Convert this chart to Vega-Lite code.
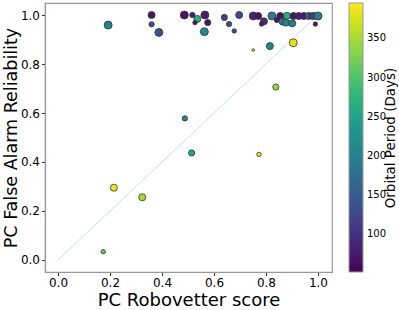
{
  "$schema": "https://vega.github.io/schema/vega-lite/v6.json",
  "width": 287,
  "height": 269,
  "autosize": "none",
  "padding": {"left": 45, "top": 3, "right": 67, "bottom": 38},
  "config": {
    "font": "DejaVu Sans",
    "view": {"stroke": "#999", "strokeWidth": 1.2},
    "axis": {
      "grid": false,
      "labelFont": "DejaVu Sans",
      "labelFontSize": 12,
      "labelColor": "#000",
      "tickColor": "#333",
      "tickSize": 3.5,
      "labelPadding": 2,
      "domainColor": "#999",
      "domainWidth": 1.2,
      "titleFont": "DejaVu Sans",
      "titleFontSize": 18,
      "titleFontWeight": "normal",
      "titleColor": "#000"
    }
  },
  "layer": [
    {
      "data": {"values": [{"x": 0, "y": 0}, {"x": 1, "y": 1}]},
      "mark": {"type": "line", "color": "#c6dcef", "strokeWidth": 1},
      "encoding": {
        "x": {"field": "x", "type": "quantitative", "scale": {"domain": [-0.05, 1.054], "nice": false, "zero": false}, "axis": {"title": "PC Robovetter score", "values": [0, 0.2, 0.4, 0.6, 0.8, 1.0], "format": ".1f", "titlePadding": 3}},
        "y": {"field": "y", "type": "quantitative", "scale": {"domain": [-0.049, 1.049], "nice": false, "zero": false}, "axis": {"orient": "right", "title": "Orbital Period (Days)", "titleFontSize": 13.5, "labels": false, "ticks": false, "domain": false, "titleAngle": -90, "titlePadding": 65}}
      }
    },
    {
      "data": {"values": [
        {"score": 0.193, "rel": 0.959, "period": 205, "r": 4.5},
        {"score": 0.36, "rel": 1.0, "period": 70, "r": 4},
        {"score": 0.36, "rel": 0.962, "period": 140, "r": 3},
        {"score": 0.388, "rel": 0.929, "period": 140, "r": 4.5},
        {"score": 0.486, "rel": 1.0, "period": 70, "r": 4.5},
        {"score": 0.517, "rel": 1.0, "period": 80, "r": 3},
        {"score": 0.536, "rel": 0.984, "period": 270, "r": 4},
        {"score": 0.527, "rel": 0.969, "period": 65, "r": 2.5},
        {"score": 0.565, "rel": 1.0, "period": 75, "r": 4.5},
        {"score": 0.576, "rel": 0.969, "period": 70, "r": 3.5},
        {"score": 0.563, "rel": 0.932, "period": 215, "r": 4.5},
        {"score": 0.64, "rel": 0.99, "period": 115, "r": 3.5},
        {"score": 0.658, "rel": 0.963, "period": 135, "r": 3},
        {"score": 0.678, "rel": 0.935, "period": 140, "r": 2.5},
        {"score": 0.697, "rel": 1.0, "period": 125, "r": 4},
        {"score": 0.751, "rel": 0.996, "period": 85, "r": 4.5},
        {"score": 0.77, "rel": 0.996, "period": 70, "r": 4},
        {"score": 0.792, "rel": 0.974, "period": 90, "r": 4},
        {"score": 0.783, "rel": 0.963, "period": 75, "r": 2.5},
        {"score": 0.823, "rel": 0.996, "period": 200, "r": 4.5},
        {"score": 0.842, "rel": 0.98, "period": 70, "r": 3},
        {"score": 0.855, "rel": 0.996, "period": 65, "r": 4},
        {"score": 0.864, "rel": 0.973, "period": 185, "r": 4},
        {"score": 0.877, "rel": 0.969, "period": 195, "r": 4},
        {"score": 0.881, "rel": 0.997, "period": 270, "r": 4},
        {"score": 0.901, "rel": 0.966, "period": 200, "r": 4},
        {"score": 0.906, "rel": 0.996, "period": 70, "r": 4},
        {"score": 0.926, "rel": 0.996, "period": 80, "r": 4},
        {"score": 0.945, "rel": 0.996, "period": 75, "r": 4},
        {"score": 0.964, "rel": 0.996, "period": 150, "r": 4},
        {"score": 0.975, "rel": 0.996, "period": 140, "r": 3.5},
        {"score": 0.983, "rel": 0.996, "period": 120, "r": 4},
        {"score": 0.99, "rel": 0.963, "period": 70, "r": 2.5},
        {"score": 1.0, "rel": 0.996, "period": 190, "r": 4.5},
        {"score": 0.905, "rel": 0.887, "period": 380, "r": 4.5},
        {"score": 0.815, "rel": 0.873, "period": 205, "r": 4},
        {"score": 0.751, "rel": 0.857, "period": 385, "r": 1.5},
        {"score": 0.838, "rel": 0.706, "period": 340, "r": 3.5},
        {"score": 0.488, "rel": 0.578, "period": 200, "r": 3},
        {"score": 0.514, "rel": 0.437, "period": 260, "r": 3.5},
        {"score": 0.773, "rel": 0.431, "period": 380, "r": 2.5},
        {"score": 0.215, "rel": 0.295, "period": 385, "r": 4},
        {"score": 0.324, "rel": 0.256, "period": 350, "r": 4},
        {"score": 0.174, "rel": 0.034, "period": 310, "r": 2.5}
      ]},
      "mark": {"type": "circle", "stroke": "#333", "strokeWidth": 0.8, "opacity": 1},
      "encoding": {
        "x": {"field": "score", "type": "quantitative", "scale": {"domain": [-0.05, 1.054], "nice": false, "zero": false}},
        "y": {"field": "rel", "type": "quantitative", "scale": {"domain": [-0.049, 1.049], "nice": false, "zero": false}, "axis": {"orient": "left", "title": "PC False Alarm Reliability", "titleFontSize": 17.5, "values": [0, 0.2, 0.4, 0.6, 0.8, 1.0], "format": ".1f", "titlePadding": 0}},
        "color": {"field": "period", "type": "quantitative", "scale": {"scheme": "viridis", "domain": [52, 395]}, "legend": {"orient": "none", "legendX": 304, "legendY": 0, "title": null, "direction": "vertical", "gradientLength": 269, "gradientThickness": 14, "values": [100, 150, 200, 250, 300, 350], "labelFontSize": 10, "labelOffset": 4, "labelOverlap": false, "labelColor": "#000", "gradientStrokeColor": "#999", "gradientStrokeWidth": 1, "padding": 0}},
        "size": {"field": "r", "type": "quantitative", "scale": {"type": "pow", "exponent": 2, "domain": [0, 5], "range": [0, 78.5]}, "legend": null}
      }
    }
  ],
  "resolve": {"axis": {"y": "independent"}}
}
